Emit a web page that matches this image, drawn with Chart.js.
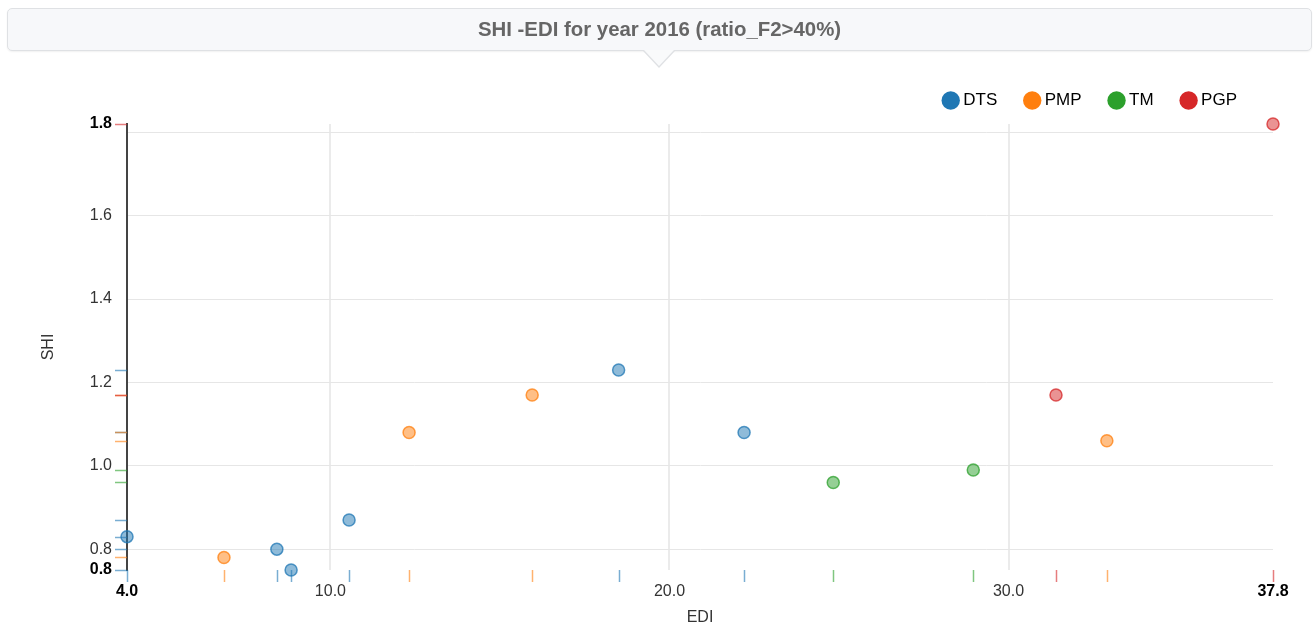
<!DOCTYPE html>
<html>
<head>
<meta charset="utf-8">
<script src="https://cdn.jsdelivr.net/npm/chart.js@4.4.0/dist/chart.umd.min.js"></script>
<style>
    html, body { margin: 0; padding: 0; background: #fff; }
    .wrap { position: relative; width: 1316px; height: 628px; font-family: Arial, "Liberation Sans", sans-serif; }
    #chart { position: absolute; left: 0; top: 0; }
    .title-box {
        position: absolute; left: 7px; top: 8px; width: 1305px; height: 43px;
        box-sizing: border-box; background: #f7f8fa; border: 1px solid #dfe1e4; border-radius: 5px;
        box-shadow: 0 1px 2px rgba(0, 0, 0, 0.06);
        text-align: center; line-height: 41px; font-weight: bold; font-size: 20.4px; color: #666;
    }
    .title-box:before, .title-box:after {
        content: ''; position: absolute; width: 0; height: 0; border-style: solid;
    }
    .title-box:before {
        left: 635px; top: 42px; border-width: 17px 16px 0 16px;
        border-color: #dfe1e4 transparent transparent transparent;
    }
    .title-box:after {
        left: 636px; top: 41px; border-width: 16px 15px 0 15px;
        border-color: #f9fafb transparent transparent transparent;
    }
</style>
</head>
<body>
<div class="wrap">
    <canvas id="chart" width="1316" height="628"></canvas>
    <div class="title-box">SHI -EDI for year 2016 (ratio_F2&gt;40%)</div>
</div>
<script>
const seriesNames = ['DTS', 'PMP', 'TM', 'PGP'];
const seriesColors = ['#1f77b4', '#ff7f0e', '#2ca02c', '#d62728'];

const dtsEdi = [4.0, 8.42, 8.84, 10.55, 18.5, 22.2];
const dtsShi = [0.83, 0.80, 0.75, 0.87, 1.23, 1.08];
const pmpEdi = [6.86, 12.32, 15.95, 32.9];
const pmpShi = [0.78, 1.08, 1.17, 1.06];
const tmEdi = [24.83, 28.96];
const tmShi = [0.96, 0.99];
const pgpEdi = [31.4, 37.8];
const pgpShi = [1.17, 1.82];

const ediSeries = [dtsEdi, pmpEdi, tmEdi, pgpEdi];
const shiSeries = [dtsShi, pmpShi, tmShi, pgpShi];

const xTickStep = 10;
const yTickStep = 0.2;

function hexToRgba(hex, alpha) {
    const r = parseInt(hex.slice(1, 3), 16);
    const g = parseInt(hex.slice(3, 5), 16);
    const b = parseInt(hex.slice(5, 7), 16);
    return `rgba(${r}, ${g}, ${b}, ${alpha})`;
}

const allEdi = ediSeries.flat();
const allShi = shiSeries.flat();
const xMin = Math.min(...allEdi), xMax = Math.max(...allEdi);
const yMin = Math.min(...allShi), yMax = Math.max(...allShi);

// ticks: min, round steps, max (nvd3 style)
function edgeTicks(min, max, step) {
    const list = [min];
    for (let v = Math.ceil(min / step - 1e-9) * step; v < max - 1e-9; v += step) {
        const r = Math.round(v * 10) / 10;
        if (r > min + 1e-9) list.push(r);
    }
    list.push(max);
    return list.map(v => ({ value: v }));
}

function isEdge(ctx) {
    const ticks = ctx.scale && ctx.scale.ticks;
    if (!ticks || ctx.index === undefined) return false;
    return ctx.index === 0 || ctx.index === ticks.length - 1;
}

// rug ticks on both axes
const rugPlugin = {
    id: 'rug',
    beforeDatasetsDraw(chart) {
        const { ctx, chartArea, scales } = chart;
        ctx.save();
        ctx.lineWidth = 1.5;
        chart.data.datasets.forEach((ds, i) => {
            ctx.strokeStyle = hexToRgba(seriesColors[i], 0.6);
            ds.data.forEach(p => {
                const px = Math.round(scales.x.getPixelForValue(p.x)) + 0.5;
                const py = Math.round(scales.y.getPixelForValue(p.y)) + 0.5;
                ctx.beginPath();
                ctx.moveTo(px, chartArea.bottom);
                ctx.lineTo(px, chartArea.bottom + 12);
                ctx.moveTo(chartArea.left - 12, py);
                ctx.lineTo(chartArea.left, py);
                ctx.stroke();
            });
        });
        ctx.restore();
    }
};

// extra room under the legend, and nudge it left a bit
const legendSpacing = {
    id: 'legendSpacing',
    beforeInit(chart) {
        const fit = chart.legend.fit;
        chart.legend.fit = function () {
            fit.call(this);
            this.height += 5;
            if (this.lineWidths) this.lineWidths = this.lineWidths.map(w => w + 5);
        };
    }
};

const ctx = document.getElementById('chart').getContext('2d');
const chart = new Chart(ctx, {
    type: 'scatter',
    data: {
        datasets: seriesNames.map((name, i) => ({
            label: name,
            data: ediSeries[i].map((x, j) => ({ x: x, y: shiSeries[i][j] })),
            backgroundColor: hexToRgba(seriesColors[i], 0.5),
            borderColor: hexToRgba(seriesColors[i], 0.75),
            borderWidth: 1.5,
            pointRadius: 6,
            pointHoverRadius: 6,
            clip: false
        }))
    },
    options: {
        responsive: false,
        animation: false,
        events: [],
        layout: { padding: { left: 0, right: 43, top: 61, bottom: 0 } },
        plugins: {
            legend: {
                position: 'top',
                align: 'end',
                labels: {
                    usePointStyle: true,
                    boxWidth: 8,
                    boxHeight: 13,
                    padding: 31,
                    color: '#111',
                    font: { family: 'Arial', size: 17 },
                    generateLabels: (c) => c.data.datasets.map((ds, i) => ({
                        text: ds.label,
                        fillStyle: seriesColors[i],
                        strokeStyle: seriesColors[i],
                        lineWidth: 0,
                        pointStyle: 'circle',
                        datasetIndex: i,
                        hidden: false
                    }))
                }
            },
            tooltip: { enabled: false }
        },
        scales: {
            x: {
                type: 'linear',
                min: xMin,
                max: xMax,
                afterBuildTicks: (scale) => { scale.ticks = edgeTicks(xMin, xMax, xTickStep); },
                afterFit: (scale) => { scale.height = 58; },
                border: { display: false },
                grid: {
                    drawTicks: false,
                    color: (c) => isEdge(c) ? 'rgba(0,0,0,0)' : '#ebebeb',
                    lineWidth: 2
                },
                ticks: {
                    autoSkip: false,
                    maxRotation: 0,
                    padding: 12,
                    color: (c) => isEdge(c) ? '#000' : '#333',
                    font: (c) => ({ family: 'Arial', size: 16, weight: isEdge(c) ? 'bold' : 'normal' }),
                    callback: (v) => Number(v).toFixed(1)
                },
                title: {
                    display: true,
                    text: 'EDI',
                    color: '#333',
                    font: { family: 'Arial', size: 16 },
                    padding: { top: 0, bottom: 1 }
                }
            },
            y: {
                type: 'linear',
                min: yMin,
                max: yMax,
                afterBuildTicks: (scale) => { scale.ticks = edgeTicks(yMin, yMax, yTickStep); },
                afterFit: (scale) => { scale.width = 127; },
                border: { display: true, color: '#444', width: 2 },
                grid: {
                    drawTicks: false,
                    color: (c) => isEdge(c) ? 'rgba(0,0,0,0)' : '#e6e6e6',
                    lineWidth: 1
                },
                ticks: {
                    autoSkip: false,
                    padding: 15,
                    color: (c) => isEdge(c) ? '#000' : '#333',
                    font: (c) => ({ family: 'Arial', size: 16, weight: isEdge(c) ? 'bold' : 'normal' }),
                    callback: function (v, i, ticks) {
                        const last = ticks.length - 1;
                        if (i !== last && Math.abs(v - yMax) < 0.04) return '';
                        return Number(v).toFixed(1);
                    }
                },
                title: {
                    display: true,
                    text: 'SHI',
                    color: '#333',
                    font: { family: 'Arial', size: 16 },
                    padding: { top: 39, bottom: 0 }
                }
            }
        }
    },
    plugins: [rugPlugin, legendSpacing]
});
</script>
</body>
</html>
